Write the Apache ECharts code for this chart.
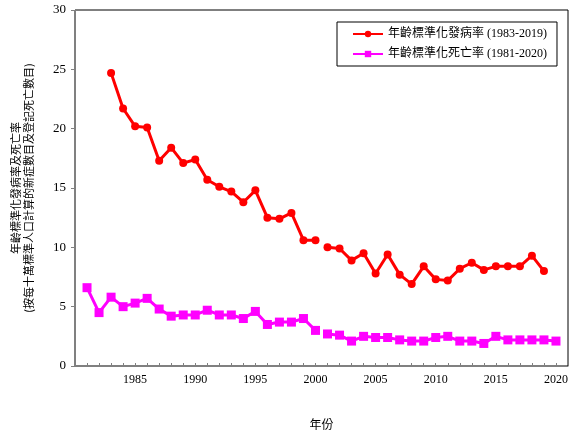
<!DOCTYPE html>
<html>
<head>
<meta charset="utf-8">
<script src="https://cdn.jsdelivr.net/npm/echarts@6/dist/echarts.min.js"></script>
<style>html,body{margin:0;padding:0;background:#fff;}#c{width:588px;height:443px;}</style>
</head>
<body>
<div id="c"></div>
<script>
// Age-standardised incidence rate (1983-2019)
const incidenceYears = [1983,1984,1985,1986,1987,1988,1989,1990,1991,1992,1993,1994,1995,1996,1997,1998,1999,2000,
  2001,2002,2003,2004,2005,2006,2007,2008,2009,2010,2011,2012,2013,2014,2015,2016,2017,2018,2019];
const incidenceValues = [24.7,21.7,20.2,20.1,17.3,18.4,17.1,17.4,15.7,15.1,14.7,13.8,14.8,12.5,12.4,12.9,10.6,10.6,
  10.0,9.9,8.9,9.5,7.8,9.4,7.7,6.9,8.4,7.3,7.2,8.2,8.7,8.1,8.4,8.4,8.4,9.3,8.0];
// Age-standardised mortality rate (1981-2020)
const mortalityYears = [1981,1982,1983,1984,1985,1986,1987,1988,1989,1990,1991,1992,1993,1994,1995,1996,1997,1998,1999,2000,
  2001,2002,2003,2004,2005,2006,2007,2008,2009,2010,2011,2012,2013,2014,2015,2016,2017,2018,2019,2020];
const mortalityValues = [6.6,4.5,5.8,5.0,5.3,5.7,4.8,4.2,4.3,4.3,4.7,4.3,4.3,4.0,4.6,3.5,3.7,3.7,4.0,3.0,
  2.7,2.6,2.1,2.5,2.4,2.4,2.2,2.1,2.1,2.4,2.5,2.1,2.1,1.9,2.5,2.2,2.2,2.2,2.2,2.1];
const breakAfterYear = 2000; // lines are not joined between 2000 and 2001
const xTickLabels = [1985,1990,1995,2000,2005,2010,2015,2020];
const yTickLabels = [0,5,10,15,20,25,30];
const incidenceName = '年齡標準化發病率 (1983-2019)';
const mortalityName = '年齡標準化死亡率 (1981-2020)';
const xAxisTitle = '年份';
const yAxisTitle = '年齡標準化發病率及死亡率\n(按每十萬標準人口計算的新症數目及登記死亡數目)';

function segments(years, values) {
  const a = [], b = [];
  years.forEach((y, i) => { (y <= breakAfterYear ? a : b).push([y, values[i]]); });
  return [a, b];
}
const inc = segments(incidenceYears, incidenceValues);
const mor = segments(mortalityYears, mortalityValues);

const FONT = '"Liberation Serif", "Noto Sans CJK TC", serif';
const CJK = '"Noto Sans CJK TC", "Liberation Serif", sans-serif';

function lineSeries(name, data, color, symbol, size) {
  return {
    type: 'line', name: name, data: data,
    symbol: symbol, symbolSize: size,
    itemStyle: { color: color },
    lineStyle: { color: color, width: 3 },
    emphasis: { disabled: true },
    animation: false, z: 3
  };
}

const chart = echarts.init(document.getElementById('c'));
chart.setOption({
  backgroundColor: '#fff',
  animation: false,
  grid: { left: 75, right: 20, top: 10, bottom: 77, show: true, borderColor: '#000', borderWidth: 1 },
  legend: {
    left: 337, top: 22,
    orient: 'vertical',
    data: [incidenceName, mortalityName],
    borderColor: '#000', borderWidth: 1,
    padding: [6, 10, 6, 15],
    itemGap: 8,
    itemWidth: 30, itemHeight: 8,
    textStyle: { fontFamily: FONT, fontSize: 12, color: '#000' }
  },
  xAxis: {
    type: 'value', min: 1980, max: 2021, interval: 1,
    name: xAxisTitle, nameLocation: 'middle', nameGap: 52,
    nameTextStyle: { fontFamily: CJK, fontSize: 12, color: '#000' },
    axisLine: { lineStyle: { color: '#808080', width: 1 } },
    axisTick: { inside: true, length: 3, lineStyle: { color: '#808080' } },
    splitLine: { show: false },
    axisLabel: {
      fontFamily: FONT, fontSize: 12, color: '#000', margin: 8,
      showMinLabel: true, showMaxLabel: true,
      formatter: v => xTickLabels.indexOf(v) >= 0 ? String(v) : ''
    }
  },
  yAxis: {
    type: 'value', min: 0, max: 30, interval: 5,
    name: yAxisTitle, nameLocation: 'middle', nameGap: 40, nameRotate: 90,
    nameTextStyle: { fontFamily: CJK, fontSize: 11, color: '#000', lineHeight: 13, align: 'center' },
    axisLine: { show: true, lineStyle: { color: '#808080', width: 1 } },
    axisTick: { show: true, inside: false, length: 4, lineStyle: { color: '#808080' } },
    splitLine: { show: false },
    axisLabel: {
      fontFamily: FONT, fontSize: 13, color: '#000', margin: 9,
      formatter: v => yTickLabels.indexOf(v) >= 0 ? String(v) : ''
    }
  },
  series: [
    lineSeries(incidenceName, inc[0], '#ff0000', 'circle', 8),
    lineSeries(incidenceName, inc[1], '#ff0000', 'circle', 8),
    lineSeries(mortalityName, mor[0], '#ff00ff', 'rect', 9),
    lineSeries(mortalityName, mor[1], '#ff00ff', 'rect', 9)
  ]
});
</script>
</body>
</html>
